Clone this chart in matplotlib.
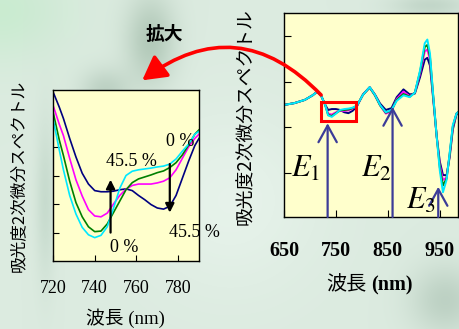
import numpy as np
import matplotlib
matplotlib.use("Agg")
import matplotlib.pyplot as plt
from matplotlib.patches import Rectangle, FancyArrowPatch

plt.rcParams['font.family'] = ['Liberation Serif', 'Noto Sans CJK JP']
plt.rcParams['mathtext.fontset'] = 'stix'

# --- zoomed panel (720-790 nm), second-derivative spectra, 0 % .. 45.5 % ---
wl_zoom = [720, 723, 725, 728, 731, 734, 737, 740, 743, 746, 749, 752, 755,
           758, 761, 764, 767, 770, 773, 776, 779, 782, 785, 788, 790]
zoom_navy = [5.94, 5.4, 5.0, 4.3, 3.65, 3.08, 2.7, 2.47, 2.43, 2.43, 2.45, 2.5, 2.53,
             2.47, 2.3, 2.15, 1.98, 1.86, 1.82, 1.92, 2.3, 2.9, 3.5, 4.05, 4.3]
zoom_magenta = [5.47, 4.8, 4.4, 3.6, 2.85, 2.28, 1.8, 1.58, 1.55, 1.68, 2.0, 2.3, 2.52,
                2.65, 2.7, 2.7, 2.7, 2.74, 2.8, 2.92, 3.2, 3.6, 4.0, 4.3, 4.45]
zoom_green = [5.24, 4.25, 3.7, 2.8, 2.05, 1.55, 1.2, 1.03, 1.05, 1.3, 1.7, 2.1, 2.5,
              2.75, 2.88, 2.95, 3.02, 3.1, 3.16, 3.28, 3.45, 3.72, 4.07, 4.45, 4.6]
zoom_cyan = [5.0, 3.9, 3.2, 2.3, 1.65, 1.18, 0.92, 0.82, 0.9, 1.2, 1.85, 2.55, 3.0,
             3.15, 3.2, 3.23, 3.26, 3.3, 3.33, 3.4, 3.58, 3.85, 4.1, 4.45, 4.55]

# --- full panel (650-985 nm) ---
wl_full = [650, 670, 690, 705, 714, 722, 729, 735, 742, 750, 758, 766, 774, 782, 790,
           802, 815, 825, 835, 846, 857, 867, 880, 892, 902, 912, 921, 926, 931, 937,
           944, 950, 956, 963, 969, 975, 982, 985]
full_navy = [1.49, 1.53, 1.60, 1.70, 1.78, 1.68, 1.50, 1.38, 1.40, 1.40, 1.38, 1.33, 1.31, 1.36, 1.45,
             1.72, 1.88, 1.72, 1.52, 1.38, 1.42, 1.66, 1.83, 1.72, 1.74, 2.10, 2.48, 2.52, 2.35, 1.65,
             0.80, 0.25, -0.04, -0.05, 0.35, 0.95, 1.28, 1.32]
full_magenta = [1.49, 1.53, 1.60, 1.70, 1.78, 1.68, 1.50, 1.30, 1.28, 1.33, 1.36, 1.36, 1.37, 1.41, 1.46,
                1.71, 1.87, 1.70, 1.48, 1.30, 1.35, 1.62, 1.78, 1.68, 1.76, 2.18, 2.66, 2.70, 2.48, 1.70,
                0.80, 0.18, -0.15, -0.10, 0.40, 1.00, 1.30, 1.33]
full_green = [1.49, 1.53, 1.60, 1.70, 1.78, 1.68, 1.50, 1.27, 1.25, 1.31, 1.37, 1.38, 1.39, 1.42, 1.47,
              1.71, 1.87, 1.70, 1.48, 1.32, 1.37, 1.60, 1.73, 1.67, 1.76, 2.22, 2.76, 2.80, 2.55, 1.72,
              0.80, 0.12, -0.27, -0.12, 0.42, 1.02, 1.30, 1.33]
full_cyan = [1.49, 1.53, 1.60, 1.70, 1.78, 1.68, 1.50, 1.26, 1.23, 1.30, 1.38, 1.40, 1.41, 1.43, 1.47,
             1.71, 1.88, 1.71, 1.49, 1.33, 1.38, 1.58, 1.70, 1.66, 1.76, 2.25, 2.84, 2.92, 2.62, 1.74,
             0.79, 0.05, -0.42, -0.15, 0.45, 1.05, 1.30, 1.33]

line_colors = ['#000080', '#ff00ff', '#008000', '#00e8ff']

# absorption bands E1, E2, E3
band_wl = [734, 859, 947]
band_tip = [1.09, 1.45, -0.30]
band_names = ['$E_1$', '$E_2$', '$E_3$']
band_text_x = [663, 798, 884]
band_text_y = [-0.08, -0.08, -0.77]

W, H = 460, 329
fig = plt.figure(figsize=(W / 100, H / 100), dpi=100)

# soft mottled backdrop
bg = fig.add_axes([0, 0, 1, 1], zorder=-10)
yy, xx = np.mgrid[0:H, 0:W]
base = np.array([220, 235, 224]) / 255.0
img = np.ones((H, W, 3)) * base
def blob(cx, cy, sx, sy, amt):
    g = np.exp(-(((xx - cx) / sx) ** 2 + ((yy - cy) / sy) ** 2))
    return g[..., None] * amt
img += blob(230, 200, 90, 90, np.array([0.04, 0.03, 0.04]))
img -= blob(0, 10, 70, 50, np.array([0.07, 0.0, 0.06]))
img -= blob(150, 40, 25, 45, np.array([0.16, 0.13, 0.15]))
img -= blob(105, 90, 25, 22, np.array([0.12, 0.10, 0.11]))
img -= blob(45, 200, 10, 80, np.array([0.08, 0.06, 0.07]))
img -= blob(445, 300, 35, 35, np.array([0.12, 0.10, 0.11]))
img -= blob(430, 5, 40, 12, np.array([0.10, 0.08, 0.09]))
bg.imshow(np.clip(img, 0, 1), extent=[0, W, H, 0], aspect='auto')
bg.set_xlim(0, W)
bg.set_ylim(H, 0)
bg.axis('off')

# left: enlarged region
ax1 = fig.add_axes([53 / W, 1 - 261 / H, 146 / W, 171 / H])
ax1.set_facecolor('#ffffcc')
for vals, c in zip([zoom_navy, zoom_magenta, zoom_green, zoom_cyan], line_colors):
    ax1.plot(wl_zoom, vals, color=c, lw=1.2)
ax1.set_xlim(720, 790)
ax1.set_ylim(0, 6)
ax1.set_xticks([720, 740, 760, 780])
ax1.set_yticks([1, 2, 3, 4])
ax1.set_yticklabels([])
ax1.tick_params(direction='in', length=4, labelsize=13, pad=14)
ax1.annotate('', xy=(747.6, 2.95), xytext=(747.6, 0.9),
             arrowprops=dict(arrowstyle='-|>', color='k', lw=1.6, mutation_scale=13))
ax1.annotate('', xy=(776, 1.6), xytext=(776, 3.5),
             arrowprops=dict(arrowstyle='-|>', color='k', lw=1.6, mutation_scale=13))
ax1.text(757.5, 3.48, '45.5 %', fontsize=13, ha='center', va='center')
ax1.text(781.2, 4.19, '0 %', fontsize=13, ha='center', va='center')
ax1.text(754.3, 0.46, '0 %', fontsize=13, ha='center', va='center')
ax1.text(787.6, 0.99, '45.5 %', fontsize=13, ha='center', va='center', clip_on=False)

# right: whole spectrum
ax2 = fig.add_axes([284 / W, 1 - 217 / H, 174 / W, 204 / H])
ax2.set_facecolor('#ffffcc')
for vals, c in zip([full_navy, full_magenta, full_green, full_cyan], line_colors):
    ax2.plot(wl_full, vals, color=c, lw=1.4)
ax2.set_xlim(650, 985)
ax2.set_ylim(-0.96, 3.5)
ax2.set_xticks([650, 750, 850, 950])
ax2.set_yticks([0, 1, 2, 3])
ax2.set_yticklabels([])
ax2.tick_params(direction='in', length=5, labelsize=14.5, pad=17)
for lab in ax2.get_xticklabels():
    lab.set_fontweight('bold')
ax2.add_patch(Rectangle((722, 1.14), 66, 0.41, fill=False, edgecolor='red', lw=2.2, zorder=5))
for x, tip in zip(band_wl, band_tip):
    ax2.annotate('', xy=(x, tip), xytext=(x, -0.96),
                 arrowprops=dict(arrowstyle='->,head_length=1.0,head_width=0.55',
                                 color='#3c3c98', lw=1.6, mutation_scale=12,
                                 shrinkA=0, shrinkB=0))
for name, x, y in zip(band_names, band_text_x, band_text_y):
    ax2.text(x, y, name, fontsize=22, ha='left', va='baseline')

for ax in (ax1, ax2):
    for s in ax.spines.values():
        s.set_linewidth(1.0)

# axis titles
fig.text(18.5 / W, 1 - 175.5 / H, '吸光度2次微分スペクトル', rotation=90,
         fontsize=12, ha='center', va='center', family='Noto Sans CJK JP')
fig.text(245.5 / W, 1 - 116.5 / H, '吸光度2次微分スペクトル', rotation=90,
         fontsize=13.5, ha='center', va='center', family='Noto Sans CJK JP')
fig.text(125 / W, 1 - 318 / H, '波長 (nm)', fontsize=13.5, ha='center', va='center')
fig.text(366.5 / W, 1 - 285 / H, '波長', fontsize=14.5, ha='right', va='center',
         family='Noto Sans CJK JP')
fig.text(371 / W, 1 - 285 / H, '(nm)', fontsize=14.5, ha='left', va='center',
         fontweight='bold')
fig.text(164 / W, 1 - 34 / H, '拡大', fontsize=13.5, ha='center', va='center',
         fontweight='bold', family='Noto Sans CJK JP')

# red curved arrow from the box to the enlarged panel
arr = FancyArrowPatch((323 / W, 1 - 97 / H), (140 / W, 1 - 82 / H),
                      transform=fig.transFigure, connectionstyle='arc3,rad=0.45',
                      arrowstyle='-|>,head_length=0.9,head_width=0.5', mutation_scale=16,
                      color='red', lw=2.6, zorder=20)
fig.patches.append(arr)

fig.savefig('out.png', dpi=100)
